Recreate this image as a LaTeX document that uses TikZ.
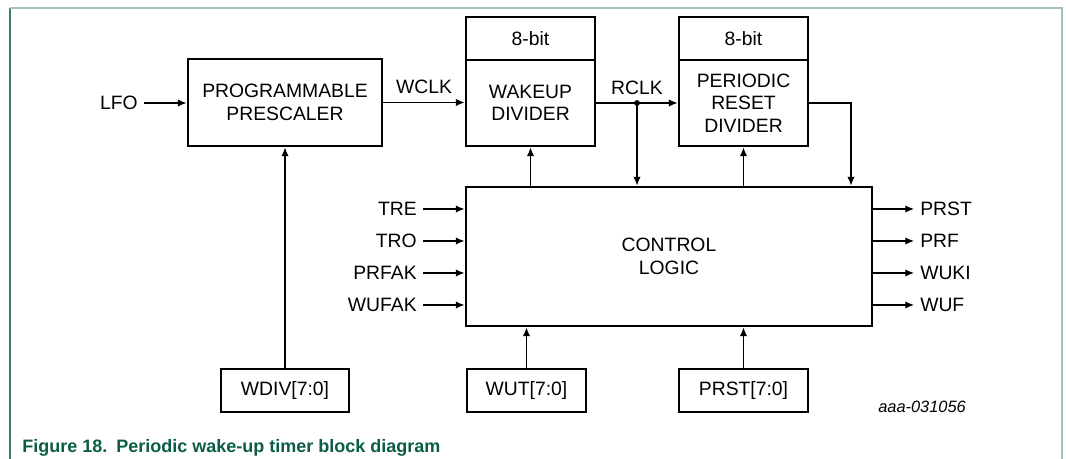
\documentclass[tikz,border=0pt]{standalone}
\usepackage{fontspec}
\setmainfont{Liberation Sans}
\usetikzlibrary{arrows.meta}

\definecolor{nxpgreen}{HTML}{0B5D48}
\definecolor{frametop}{HTML}{9DC3BA}
\definecolor{frameleft}{HTML}{3F7A6B}

\begin{document}
\begin{tikzpicture}[x=0.75pt,y=-0.75pt,
  blk/.style={draw,line width=2.2pt,align=center,inner sep=0pt,
    font=\fontsize{14.5}{17}\selectfont},
  sig/.style={inner xsep=4.5pt,inner ysep=0pt,font=\fontsize{14.5}{17}\selectfont},
  wire/.style={line width=0.9pt},
  arr/.style={wire,-{Latex[length=6.5pt,width=5.5pt]}}]

\useasboundingbox (0,0) rectangle (1066,459);

% ---------------- FRAME ----------------

\draw[frameleft,line width=1.1pt] (10,459) -- (10,8);
\draw[frametop,line width=1.1pt] (10,8) -- (1062,8) -- (1062,459);

% ---------------- BLOCKS ----------------

\node[blk,minimum width=145.5pt,minimum height=65.25pt] (PRE) at (285,102.5) {PROGRAMMABLE\\PRESCALER};

\node[blk,minimum width=96.75pt,minimum height=32.25pt] (WBIT) at (530.5,38.5) {8-bit};
\node[blk,minimum width=96.75pt,minimum height=64.5pt] (WDIV) at (530.5,103) {WAKEUP\\DIVIDER};

\node[blk,minimum width=96.75pt,minimum height=32.25pt] (PBIT) at (743.5,38.5) {8-bit};
\node[blk,minimum width=96.75pt,minimum height=64.5pt] (PDIV) at (743.5,103) {PERIODIC\\RESET\\DIVIDER};

\node[blk,minimum width=304.5pt,minimum height=104.25pt] (CTRL) at (669,256.5) {CONTROL\\LOGIC};

\node[blk,minimum width=96pt,minimum height=32.25pt] (REGDIV) at (285,390.5) {WDIV[7:0]};
\node[blk,minimum width=89.25pt,minimum height=32.25pt] (REGWUT) at (526.5,390.5) {WUT[7:0]};
\node[blk,minimum width=96.75pt,minimum height=32.25pt] (REGPRST) at (743.5,390.5) {PRST[7:0]};

% ---------------- CLOCK PATH ----------------

\node[sig,anchor=east] (LFO) at (144,103) {LFO};
\draw[arr] (LFO.east) -- (LFO.east -| PRE.west);

\draw[arr] (PRE.east) -- node[sig,above=6pt] {WCLK} (PRE.east -| WDIV.west);

\draw[arr] (WDIV.east) -- node[sig,above=6pt] {RCLK} coordinate (RJ) (PDIV.west);
\fill (RJ) circle (2.2pt);
\draw[arr] (RJ) -- (RJ |- CTRL.north);

\coordinate (POUT) at (851,103);
\draw[arr] (PDIV.east) -- (POUT) -- (POUT |- CTRL.north);

\draw[arr] (WDIV.south |- CTRL.north) -- (WDIV.south);
\draw[arr] (PDIV.south |- CTRL.north) -- (PDIV.south);

% ---------------- CONTROL SIGNALS ----------------

\foreach \sname [count=\i] in {TRE,TRO,PRFAK,WUFAK} {
  \node[sig,anchor=east] (IN\i) at (423,177+32*\i) {\sname};
  \draw[arr] (IN\i.east) -- (IN\i.east -| CTRL.west);
}

\foreach \sname [count=\i] in {PRST,PRF,WUKI,WUF} {
  \node[sig,anchor=west] (OUT\i) at (914,177+32*\i) {\sname};
  \draw[arr] (OUT\i.west -| CTRL.east) -- (OUT\i.west);
}

% ---------------- REGISTERS ----------------

\draw[arr] (REGDIV.north) -- (PRE.south);
\draw[arr] (REGWUT.north) -- (REGWUT.north |- CTRL.south);
\draw[arr] (REGPRST.north) -- (REGPRST.north |- CTRL.south);

% ---------------- LABELS ----------------

\node[anchor=west,inner sep=0pt,font=\fontsize{12.3}{14}\selectfont\itshape] (DOCID) at (878,407) {aaa-031056};
\node[anchor=base west,inner sep=0pt,text=nxpgreen,font=\fontsize{13.5}{16}\selectfont\bfseries] (CAP) at (22,452) {Figure 18.\hspace{0.5em}Periodic wake-up timer block diagram};

\end{tikzpicture}
\end{document}
